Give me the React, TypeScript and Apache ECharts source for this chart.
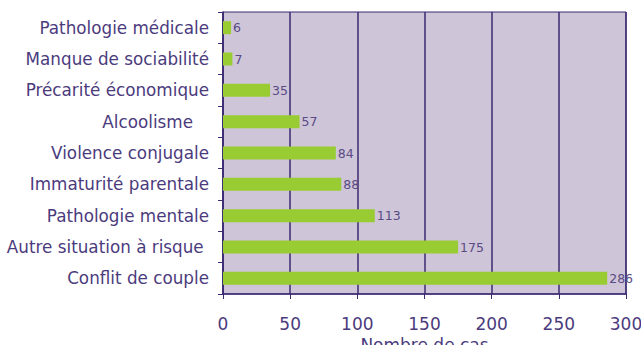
import React, { useEffect, useRef } from "react";
import * as echarts from "echarts";

const categories = [
  "Pathologie médicale",
  "Manque de sociabilité",
  "Précarité économique",
  "Alcoolisme   ",
  "Violence conjugale",
  "Immaturité parentale",
  "Pathologie mentale",
  "Autre situation à risque ",
  "Conflit de couple",
];
const values = [6, 7, 35, 57, 84, 88, 113, 175, 286];
const xTicks = [0, 50, 100, 150, 200, 250, 300];

const TEXT = "#4b3b7d";
const LINE = "#3d2a72";

export default function App() {
  const ref = useRef<HTMLDivElement>(null);
  useEffect(() => {
    const chart = echarts.init(ref.current!, null, { renderer: "svg" });
    chart.setOption({
      animation: false,
      grid: {
        left: 223,
        right: 15,
        top: 12,
        bottom: 51,
        outerBoundsMode: "none",
        containLabel: false,
        show: true,
        backgroundColor: "#cec5d8",
        borderColor: LINE,
        borderWidth: 1,
      },
      xAxis: {
        type: "value",
        min: xTicks[0],
        max: xTicks[xTicks.length - 1],
        interval: 50,
        name: "Nombre de cas",
        nameLocation: "middle",
        nameGap: 41,
        nameTextStyle: { color: TEXT, fontSize: 17, fontFamily: "DejaVu Sans" },
        axisLine: { show: true, lineStyle: { color: LINE, width: 1.5 } },
        axisTick: { show: true, inside: false, length: 5, lineStyle: { color: LINE } },
        axisLabel: { color: TEXT, fontSize: 17, fontFamily: "DejaVu Sans", margin: 21 },
        splitLine: { show: true, lineStyle: { color: LINE, width: 1.5 } },
      },
      yAxis: {
        type: "category",
        data: categories,
        inverse: true,
        axisLine: { show: true, lineStyle: { color: LINE, width: 1.5 } },
        axisTick: { show: true, length: 5, lineStyle: { color: LINE } },
        axisLabel: { color: TEXT, fontSize: 16.8, fontFamily: "DejaVu Sans", margin: 14 },
      },
      series: [
        {
          type: "bar",
          data: values,
          barWidth: 13,
          itemStyle: { color: "#99cc33" },
          label: {
            show: true,
            position: "right",
            distance: 2,
            color: "#5a4b85",
            fontSize: 12.5,
            fontFamily: "DejaVu Sans",
          },
        },
      ],
    });
    return () => chart.dispose();
  }, []);
  return (
    <div
      ref={ref}
      style={{ position: "fixed", left: 0, top: 0, width: 641, height: 345, background: "#fff" }}
    />
  );
}
